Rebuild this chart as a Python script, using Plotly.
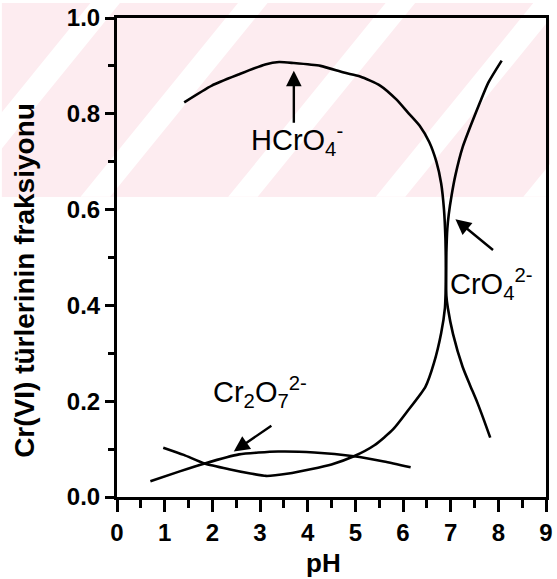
import plotly.graph_objects as go

# pH / fraction readings for each Cr(VI) species
ph_hcro4 = [1.41, 1.99, 2.55, 3.11, 3.40, 3.70, 4.27, 4.76, 5.10, 5.52, 5.86, 6.10,
            6.35, 6.55, 6.70, 6.80, 6.86, 6.89, 6.90, 6.91, 6.94, 7.05, 7.25, 7.40,
            7.56, 7.70, 7.83]
frac_hcro4 = [0.824, 0.859, 0.882, 0.903, 0.908, 0.906, 0.900, 0.886, 0.878, 0.859,
              0.830, 0.803, 0.775, 0.741, 0.700, 0.655, 0.600, 0.540, 0.480, 0.420,
              0.395, 0.340, 0.272, 0.235, 0.197, 0.160, 0.124]

ph_cro4 = [0.97, 1.40, 1.84, 2.35, 2.80, 3.13, 3.60, 4.06, 4.50, 4.97, 5.40, 5.79,
           6.10, 6.47, 6.65, 6.80, 6.88, 6.90, 6.91, 6.93, 6.96, 7.02, 7.10, 7.25,
           7.45, 7.62, 7.79, 8.07]
frac_cro4 = [0.103, 0.088, 0.070, 0.058, 0.049, 0.044, 0.049, 0.058, 0.068, 0.085,
             0.108, 0.141, 0.180, 0.230, 0.280, 0.342, 0.395, 0.450, 0.510, 0.560,
             0.590, 0.630, 0.672, 0.730, 0.783, 0.825, 0.865, 0.911]

ph_cr2o7 = [0.70, 1.30, 1.84, 2.56, 3.38, 4.14, 4.97, 5.60, 6.16]
frac_cr2o7 = [0.033, 0.053, 0.070, 0.089, 0.095, 0.093, 0.085, 0.074, 0.062]

x_ticks = list(range(0, 10))
y_ticks = [0.0, 0.2, 0.4, 0.6, 0.8, 1.0]

# species labels: (text, x, y) and arrows: (head x, head y, tail x, tail y)
labels = [
    ("HCrO<sub>4</sub><sup>-</sup>", 2.76, 0.745),
    ("Cr<sub>2</sub>O<sub>7</sub><sup>2-</sup>", 1.97, 0.219),
    ("CrO<sub>4</sub><sup>2-</sup>", 6.95, 0.445),
]
arrows = [
    (3.71, 0.89, 3.71, 0.778),
    (7.10, 0.58, 7.92, 0.513),
    (2.45, 0.095, 3.27, 0.151),
]

W, H = 557, 579
L, R, T, B = 117, 4, 15, 82
pw, ph_ = W - L - R, H - T - B
x_range = [x_ticks[0], x_ticks[-1]]
y_range = [y_ticks[0], y_ticks[-1]]


def px_x(px):
    return (px - L) / pw


def px_y(py):
    return (H - B - py) / ph_


fig = go.Figure()
line_style = dict(color="black", width=2.6, shape="spline", smoothing=0.6)
for xs, ys, name in [(ph_hcro4, frac_hcro4, "HCrO4-"),
                     (ph_cro4, frac_cro4, "CrO4 2-"),
                     (ph_cr2o7, frac_cr2o7, "Cr2O7 2-")]:
    fig.add_trace(go.Scatter(x=xs, y=ys, mode="lines", line=line_style,
                             name=name, showlegend=False, hoverinfo="skip"))

# faint pink band with white diagonal stripes across the upper part
shapes = [dict(type="rect", xref="paper", yref="paper", layer="below",
               x0=px_x(0), x1=px_x(W), y0=px_y(195), y1=px_y(0),
               fillcolor="rgb(253,236,240)", line=dict(width=0))]
band_bottom, band_top, shift, stripe_w = 195, 0, 160, 30
for xb in range(-220, 700, 150):
    p = [(xb, band_bottom), (xb + stripe_w, band_bottom),
         (xb + stripe_w + shift, band_top), (xb + shift, band_top)]
    path = "M " + " L ".join(f"{px_x(a):.4f},{px_y(b):.4f}" for a, b in p) + " Z"
    shapes.append(dict(type="path", xref="paper", yref="paper", layer="below",
                       path=path, fillcolor="white", line=dict(width=0)))

annotations = []
for text, x, y in labels:
    annotations.append(dict(text=text, x=x, y=y, xref="x", yref="y",
                            xanchor="left", yanchor="middle", showarrow=False,
                            font=dict(family="Liberation Sans, Arial", size=29,
                                      color="black")))
for hx, hy, tx, ty in arrows:
    annotations.append(dict(text="", x=hx, y=hy, xref="x", yref="y",
                            ax=tx, ay=ty, axref="x", ayref="y", showarrow=True,
                            arrowhead=2, arrowsize=1.3, arrowwidth=2.4,
                            arrowcolor="black"))

annotations.append(dict(text="Cr(VI) türlerinin fraksiyonu", textangle=-90,
                        x=px_x(23), y=px_y(279), xref="paper", yref="paper",
                        xanchor="center", yanchor="middle", showarrow=False,
                        font=dict(family="Liberation Sans, Arial", size=28,
                                  color="black", weight="bold")))
annotations.append(dict(text="pH", x=px_x(327), y=px_y(563), xref="paper",
                        yref="paper", xanchor="center", yanchor="middle",
                        showarrow=False,
                        font=dict(family="Liberation Sans, Arial", size=26,
                                  color="black", weight="bold")))

tick_font = dict(family="Liberation Sans, Arial", size=24, color="black",
                 weight="bold")

# minor ticks halfway between the labelled ones
x_step = x_ticks[1] - x_ticks[0]
y_step = y_ticks[1] - y_ticks[0]

fig.update_layout(
    width=W, height=H,
    margin=dict(l=L, r=R, t=T, b=B, pad=0),
    paper_bgcolor="white", plot_bgcolor="rgba(0,0,0,0)",
    shapes=shapes, annotations=annotations,
    xaxis=dict(range=x_range, tickmode="linear", tick0=x_ticks[0], dtick=x_step,
               ticks="outside", ticklen=12, tickwidth=3, tickcolor="black",
               minor=dict(dtick=x_step / 2, ticks="outside", ticklen=8,
                          tickwidth=3, tickcolor="black"),
               showline=True, linecolor="black", linewidth=3, mirror=True,
               showgrid=False, zeroline=False, tickfont=tick_font,
               fixedrange=True),
    yaxis=dict(range=y_range, tickmode="linear", tick0=y_ticks[0], dtick=y_step,
               tickformat=".1f",
               ticks="outside", ticklen=9, tickwidth=3, tickcolor="black",
               minor=dict(dtick=y_step / 2, ticks="outside", ticklen=6,
                          tickwidth=3, tickcolor="black"),
               showline=True, linecolor="black", linewidth=3, mirror=True,
               showgrid=False, zeroline=False, tickfont=tick_font,
               fixedrange=True),
)

fig.write_html("out.html")
